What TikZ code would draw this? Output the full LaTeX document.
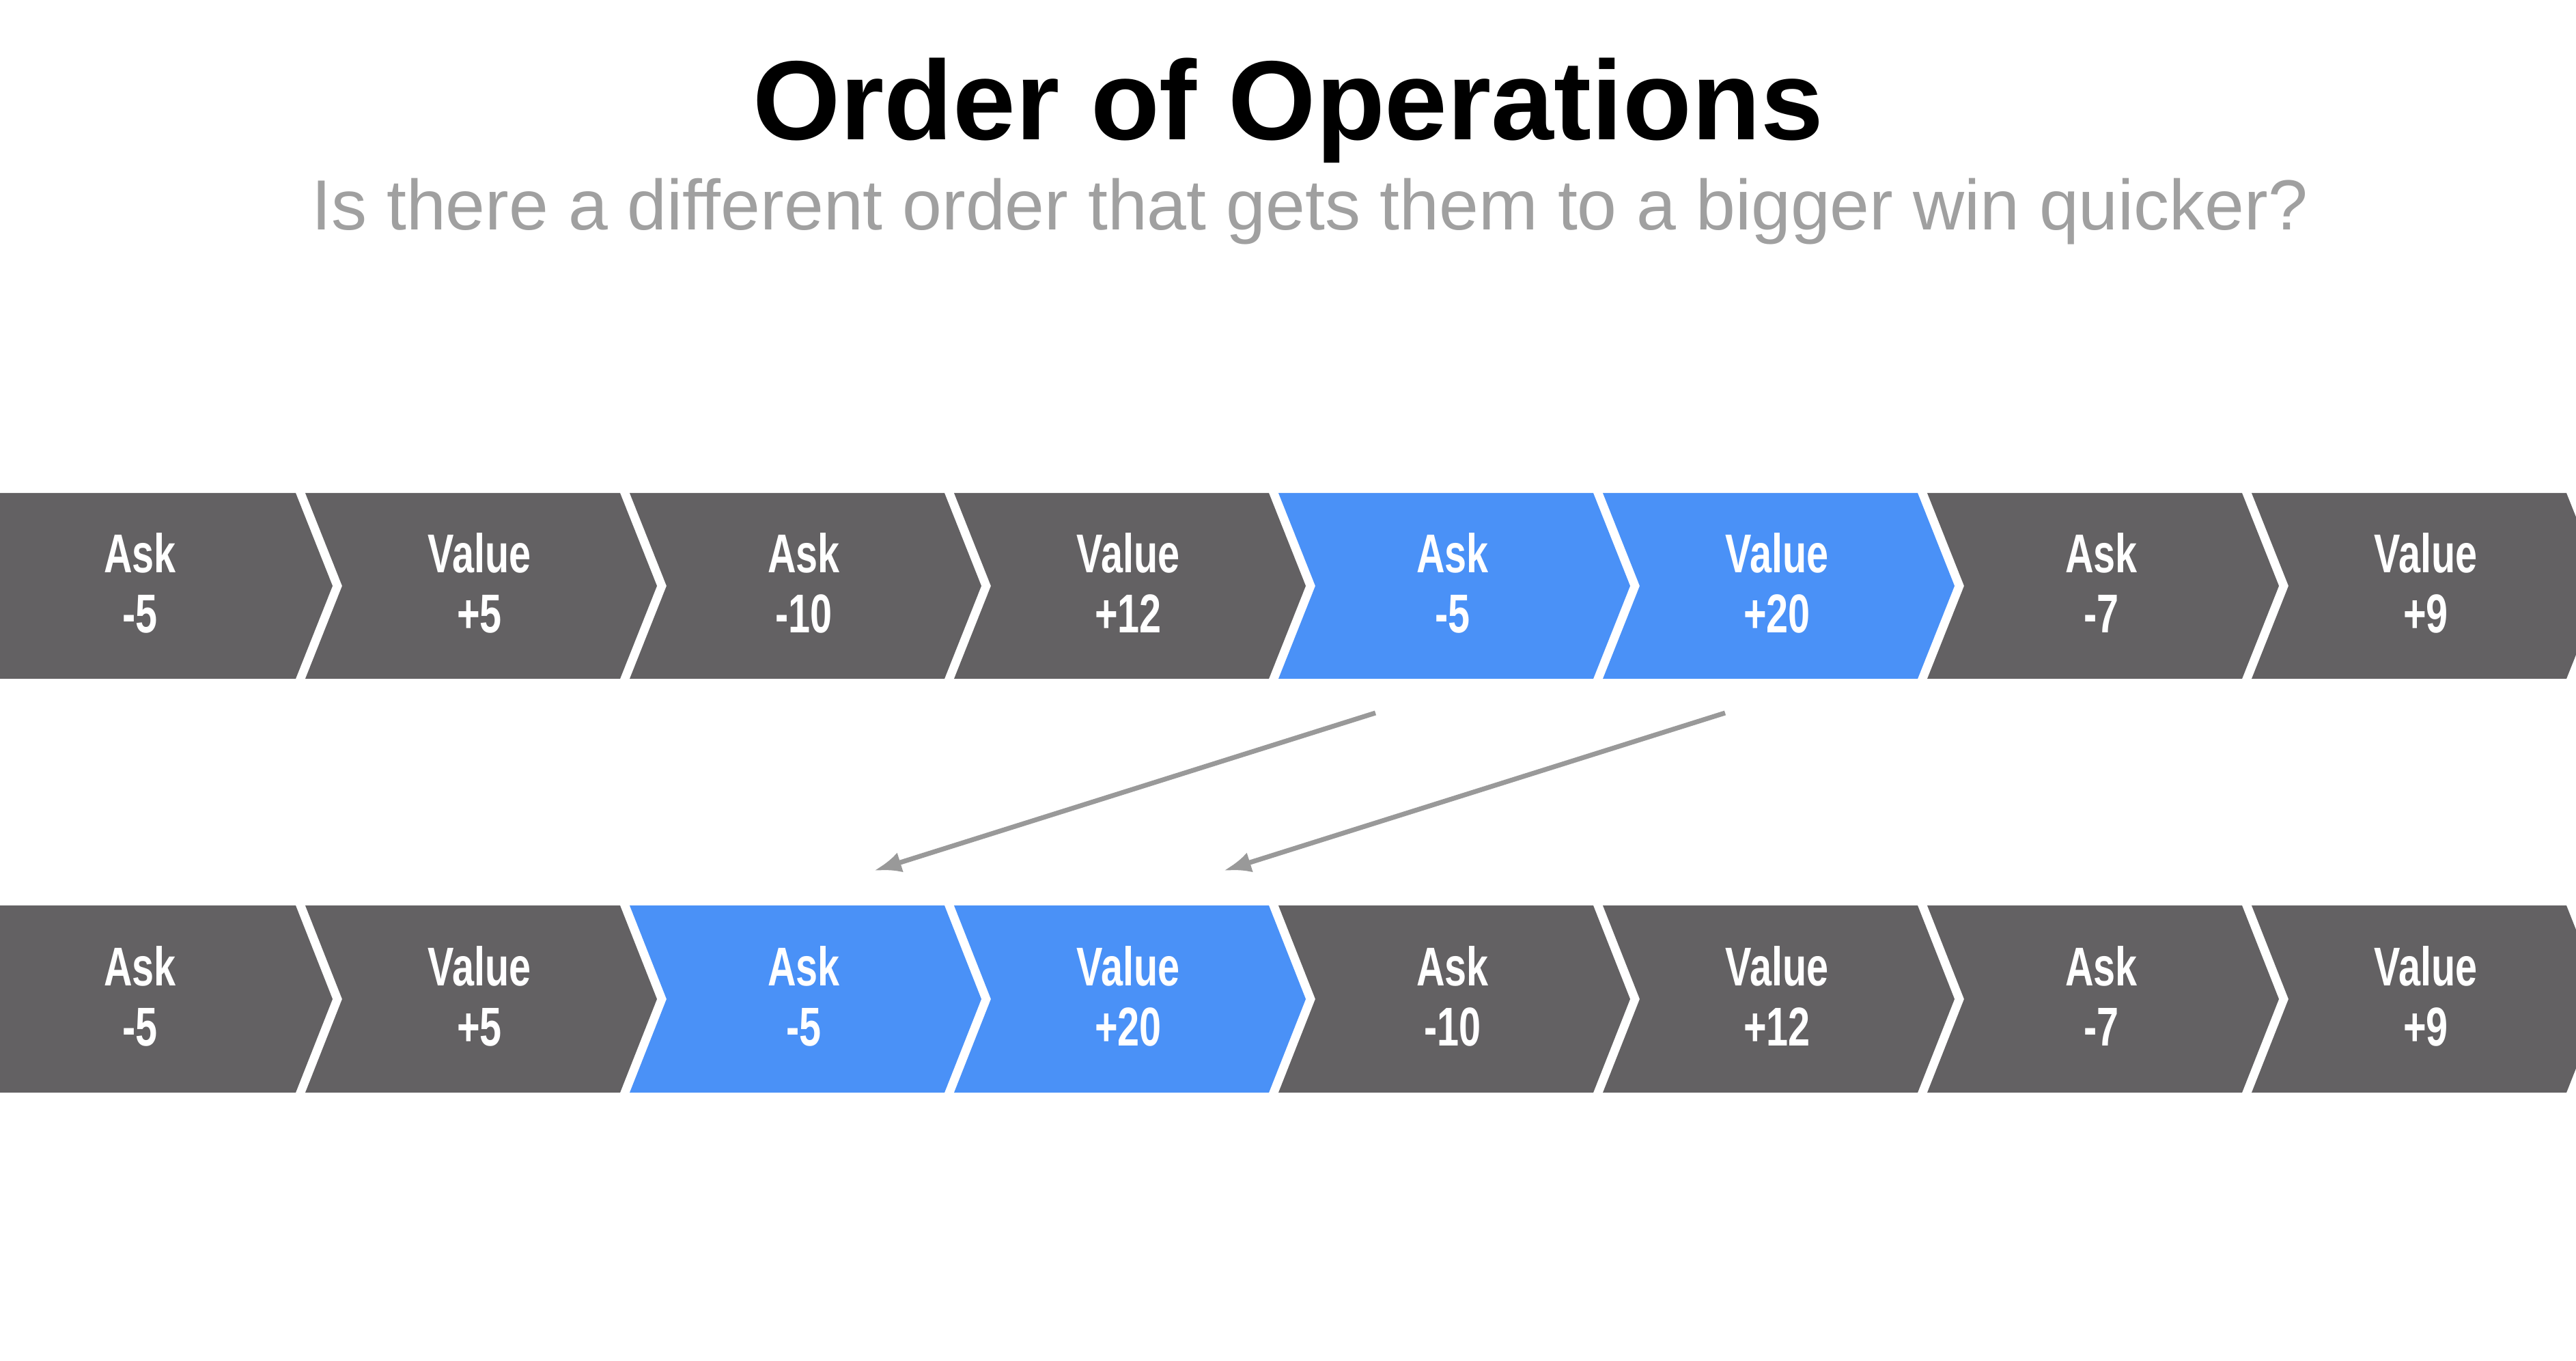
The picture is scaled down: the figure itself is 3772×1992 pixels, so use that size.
\documentclass[tikz,border=0pt]{standalone}
\usepackage{fontspec}
\setmainfont{Liberation Sans}
\newfontfamily\cond[FakeStretch=0.72]{Liberation Sans}
\definecolor{gr}{HTML}{636163}
\definecolor{bl}{HTML}{4A91F7}
\definecolor{sub}{HTML}{A0A0A0}
\definecolor{arr}{HTML}{999999}
\tikzset{x=1pt,y=1pt,
 lbl/.style={text=white,font=\cond\bfseries\fontsize{80}{88}\selectfont,align=center,inner sep=0},
 mover/.style={draw=arr,line width=7pt,-{Latex[length=40pt,width=30pt]}}}
\usetikzlibrary{arrows.meta}
\begin{document}
\begin{tikzpicture}
\useasboundingbox (0,0) rectangle (3772,1992);
\fill[white] (0,0) rectangle (3772,1992);
\node[font=\bfseries\fontsize{165}{170}\selectfont,anchor=base] (title) at (1886,1787) {Order of Operations};
\node[font=\fontsize{104}{110}\selectfont,text=sub,anchor=base] (subtitle) at (1918,1655) {Is there a different order that gets them to a bigger win quicker?};
% rows: #1 top Y, #2 bottom Y, #3 name prefix, list
\newcommand\chevrow[3]{%
 \foreach \i/\c/\a/\b in {#3}{%
  \pgfmathsetmacro\L{475*\i-28}
  \pgfmathsetmacro\R{433+475*\i}
  \pgfmathsetmacro\M{(#1+#2)/2}
  \ifnum\i=0
   \fill[\c] (-10,#1) -- (\R,#1) -- (\R+54,\M) -- (\R,#2) -- (-10,#2) -- cycle;
   \node[lbl] (#1n\i) at (205,\M+4) {\a\\\b};
  \else
   \fill[\c] (\L,#1) -- (\R,#1) -- (\R+54,\M) -- (\R,#2) -- (\L,#2) -- (\L+54,\M) -- cycle;
   \node[lbl] (#1n\i) at (\L+255,\M+4) {\a\\\b};
  \fi
 }}
\chevrow{1270}{998}{0/gr/Ask/-5,1/gr/Value/+5,2/gr/Ask/-10,3/gr/Value/+12,4/bl/Ask/-5,5/bl/Value/+20,6/gr/Ask/-7,7/gr/Value/+9}
\chevrow{666}{392}{0/gr/Ask/-5,1/gr/Value/+5,2/bl/Ask/-5,3/bl/Value/+20,4/gr/Ask/-10,5/gr/Value/+12,6/gr/Ask/-7,7/gr/Value/+9}
\coordinate (s1) at (2014,948);
\coordinate (e1) at (1280,717);
\coordinate (s2) at (2526,948);
\coordinate (e2) at (1792,717);
\draw[mover] (s1) -- (e1);
\draw[mover] (s2) -- (e2);
\end{tikzpicture}
\end{document}
